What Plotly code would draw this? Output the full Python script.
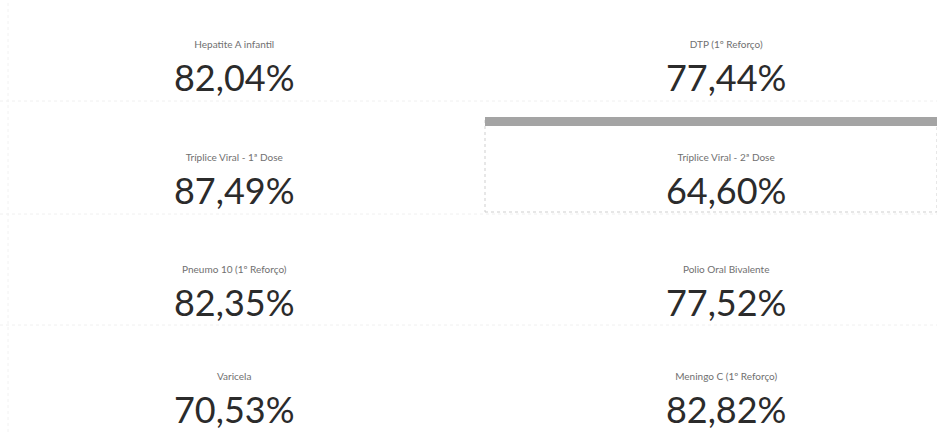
import plotly.graph_objects as go

titles = ["Hepatite A infantil", "DTP (1º Reforço)",
          "Tríplice Viral - 1ª Dose", "Tríplice Viral - 2ª Dose",
          "Pneumo 10 (1º Reforço)", "Polio Oral Bivalente",
          "Varicela", "Meningo C (1º Reforço)"]
values = [82.04, 77.44, 87.49, 64.60, 82.35, 77.52, 70.53, 82.82]

W, H = 937, 432
col_x = [(0.0, 0.5), (0.55, 1.0)]
row_y = [(0.752, 0.892), (0.49, 0.63), (0.231, 0.371), (0.0, 0.105)]

fig = go.Figure()
for i, (t, v) in enumerate(zip(titles, values)):
    r, c = divmod(i, 2)
    fig.add_trace(go.Indicator(
        mode="number", value=v,
        number=dict(suffix="%", valueformat=".2f",
                    font=dict(family="Lato", size=36, color="#2b2b2b")),
        title=dict(text=t, font=dict(family="Lato", size=10, color="#707070")),
        domain=dict(x=list(col_x[c]), y=list(row_y[r])),
    ))

def py(px):
    return 1 - px / H

shapes = [
    dict(type="rect", xref="paper", yref="paper", x0=485 / W, x1=1.0,
         y0=py(212), y1=py(120), line=dict(color="#cfcfcf", width=1, dash="dot"),
         fillcolor="rgba(0,0,0,0)"),
    dict(type="rect", xref="paper", yref="paper", x0=485 / W, x1=1.0,
         y0=py(126), y1=py(117), line=dict(width=0), fillcolor="#a4a4a4"),
]
for yy in (101, 214, 325):
    shapes.append(dict(type="line", xref="paper", yref="paper", x0=0, x1=1,
                       y0=py(yy), y1=py(yy),
                       line=dict(color="#f0f0f0", width=1, dash="dot")))
shapes.append(dict(type="line", xref="paper", yref="paper", x0=8 / W, x1=8 / W,
                   y0=0, y1=1, line=dict(color="#f2f2f2", width=1, dash="dot")))

fig.update_layout(
    width=W, height=H, margin=dict(l=0, r=0, t=0, b=0),
    paper_bgcolor="white", plot_bgcolor="white", separators=",.",
    shapes=shapes,
)
fig.write_html("out.html", config={"displayModeBar": False},
               post_script="document.body.style.margin='0';document.body.style.overflow='hidden';")
